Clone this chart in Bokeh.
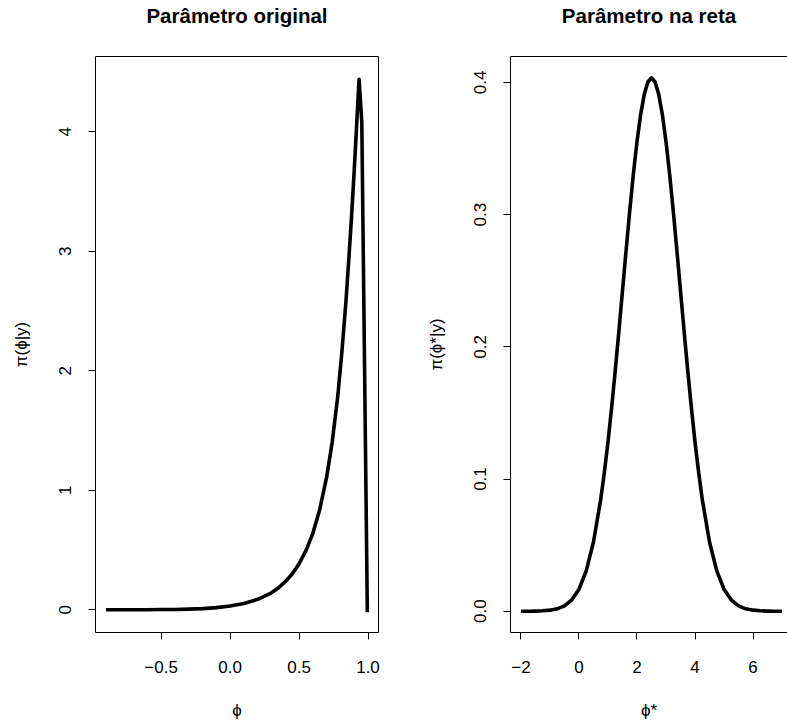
from bokeh.plotting import figure
from bokeh.layouts import row
from bokeh.models import Range1d, FixedTicker, Span, LinearAxis
from bokeh.embed import file_html
from bokeh.resources import INLINE

# ---------------- data ----------------
titles = ["Parâmetro original", "Parâmetro na reta"]
xlabels = ["\u03d5", "\u03d5*"]
ylabels = ["\u03c0(\u03d5|y)", "\u03c0(\u03d5*|y)"]

phi = [-0.90, -0.80, -0.70, -0.60, -0.50, -0.40, -0.30, -0.20, -0.10, 0.00,
       0.10, 0.20, 0.30, 0.35, 0.40, 0.45, 0.50, 0.55, 0.60, 0.65, 0.70,
       0.74, 0.78, 0.81, 0.84, 0.86, 0.88, 0.90, 0.915, 0.935, 0.955, 0.995]
dens_phi = [0.000, 0.000, 0.000, 0.001, 0.002, 0.003, 0.006, 0.010, 0.018, 0.032,
            0.052, 0.088, 0.142, 0.183, 0.235, 0.300, 0.385, 0.495, 0.640, 0.840, 1.110,
            1.400, 1.780, 2.150, 2.580, 2.920, 3.280, 3.680, 4.000, 4.440, 4.080, -0.020]

phistar = [-2.00, -1.75, -1.50, -1.25, -1.00, -0.75, -0.50, -0.25, 0.00, 0.25,
           0.50, 0.75, 0.875, 1.00, 1.125, 1.25, 1.375, 1.50, 1.625, 1.75,
           1.875, 2.00, 2.125, 2.25, 2.375, 2.50, 2.625, 2.75, 2.875, 3.00,
           3.125, 3.25, 3.375, 3.50, 3.625, 3.75, 3.875, 4.00, 4.125, 4.25,
           4.50, 4.75, 5.00, 5.25, 5.50, 5.75, 6.00, 6.25, 6.50, 6.75, 7.00]
dens_phistar = [0.0000, 0.0000, 0.0001, 0.0003, 0.0008, 0.0018, 0.0041, 0.0085, 0.0166, 0.0305,
                0.0524, 0.0846, 0.1049, 0.1280, 0.1538, 0.1819, 0.2116, 0.2423, 0.2730, 0.3028,
                0.3306, 0.3552, 0.3756, 0.3908, 0.4003, 0.4035, 0.4003, 0.3908, 0.3756, 0.3552,
                0.3306, 0.3028, 0.2730, 0.2423, 0.2116, 0.1819, 0.1538, 0.1280, 0.1049, 0.0846,
                0.0524, 0.0305, 0.0166, 0.0085, 0.0041, 0.0018, 0.0008, 0.0003, 0.0001, 0.0000, 0.0000]

x1_ticks = [-0.5, 0.0, 0.5, 1.0]
x1_labels = ["\u22120.5", "0.0", "0.5", "1.0"]
y1_ticks = [0, 1, 2, 3, 4]
y1_labels = ["0", "1", "2", "3", "4"]
x2_ticks = [-2, 0, 2, 4, 6]
x2_labels = ["\u22122", "0", "2", "4", "6"]
y2_ticks = [0.0, 0.1, 0.2, 0.3, 0.4]
y2_labels = ["0.0", "0.1", "0.2", "0.3", "0.4"]

FONT = "Liberation Sans"

TOP, BOT = 56, 632
H = 723


def make_panel(width, bl, br, xr, yr, xt, xl, yt, yl, xlab, ylab, title):
    p = figure(width=width, height=H, x_range=Range1d(*xr), y_range=Range1d(*yr),
               output_backend="svg", toolbar_location=None,
               min_border_left=bl, min_border_right=br,
               min_border_top=TOP, min_border_bottom=H - BOT)
    p.xgrid.visible = False
    p.ygrid.visible = False
    p.background_fill_color = "white"
    p.border_fill_color = "white"
    p.outline_line_color = "black"
    p.outline_line_width = 1
    for ax, ticks, labels in ((p.xaxis[0], xt, xl), (p.yaxis[0], yt, yl)):
        ax.ticker = FixedTicker(ticks=ticks)
        ax.major_label_overrides = {t: s for t, s in zip(ticks, labels)}
        ax.minor_tick_line_color = None
        ax.major_tick_in = 0
        ax.major_tick_out = 7
        ax.major_tick_line_color = "black"
        ax.axis_line_color = None
        ax.major_label_text_font = FONT
        ax.major_label_text_font_size = "17px"
        ax.major_label_text_color = "black"
        ax.axis_label_text_font = FONT
        ax.axis_label_text_font_size = "17px"
        ax.axis_label_text_font_style = "normal"
        ax.axis_label_text_color = "black"
    p.xaxis.major_label_standoff = 21
    p.yaxis.major_label_standoff = 17
    p.yaxis.major_label_orientation = "vertical"
    p.yaxis.axis_label = ylab
    p.yaxis.axis_label_standoff = 26
    p.xaxis.axis_label = xlab
    p.xaxis.axis_label_standoff = 25
    # title drawn as the label of a tickless axis above the frame
    top_ax = LinearAxis(ticker=FixedTicker(ticks=[]), axis_label=title,
                        axis_line_color=None, major_tick_line_color=None,
                        minor_tick_line_color=None, major_tick_out=0, major_tick_in=0,
                        major_label_standoff=0, axis_label_standoff=30,
                        axis_label_text_font=FONT, axis_label_text_font_size="20.5px",
                        axis_label_text_font_style="bold", axis_label_text_color="black")
    p.add_layout(top_ax, "above")
    return p


# ---------------- left panel ----------------
p1 = make_panel(400, 95, 22, (-0.976, 1.076), (-0.19, 4.63),
                x1_ticks, x1_labels, y1_ticks, y1_labels, xlabels[0], ylabels[0], titles[0])
p1.line(phi, dens_phi, line_width=3.6, line_color="black", line_join="round")

# ---------------- right panel ----------------
p2 = make_panel(387, 110, 0, (-2.36, 7.188), (-0.0161, 0.4196),
                x2_ticks, x2_labels, y2_ticks, y2_labels, xlabels[1], ylabels[1], titles[1])
p2.outline_line_color = None
p2.xaxis.axis_line_color = "black"
p2.yaxis.axis_line_color = "black"
p2.add_layout(Span(location=0.4196, dimension="width", line_color="black", line_width=1))
p2.line(phistar, dens_phistar, line_width=3.6, line_color="black", line_join="round")

layout = row(p1, p2)
open("out.html", "w").write(file_html(layout, INLINE))
